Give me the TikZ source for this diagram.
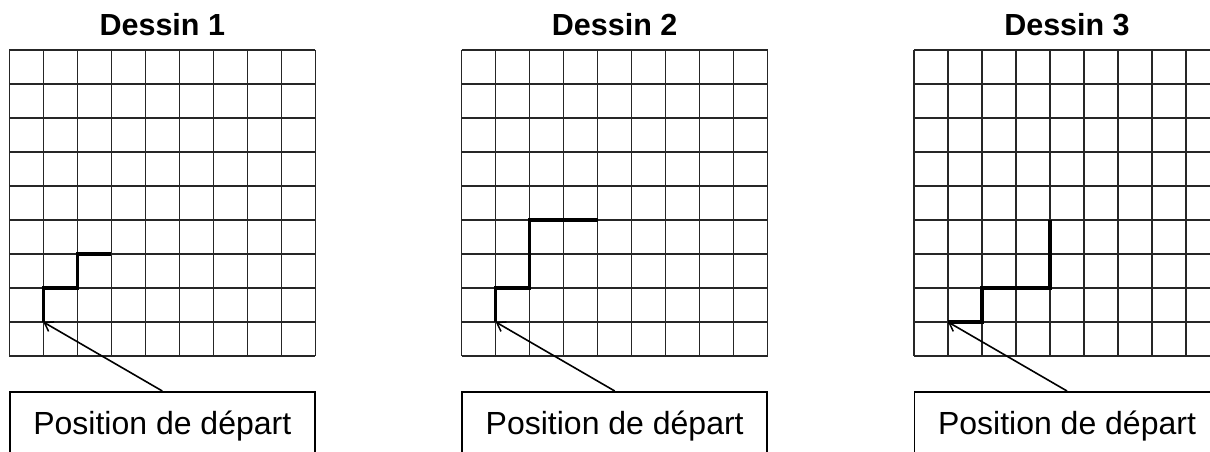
\documentclass[tikz,border=0pt]{standalone}
\usepackage{fontspec}
\setmainfont{Liberation Sans}
\usetikzlibrary{arrows.meta}
\begin{document}
\begin{tikzpicture}[x=1pt,y=-1pt,
  gridline/.style={line width=1.15pt, draw=black!85},
  pathline/.style={line width=3.3pt, line join=miter, line cap=butt},
  arrowline/.style={line width=1.6pt, -{Straight Barb[length=8pt,width=11pt,line width=1.5pt]}},
  titletext/.style={font=\bfseries\fontsize{30.5}{36}\selectfont, anchor=base, inner sep=0},
  box/.style={draw, line width=1.6pt, minimum width=305pt, inner sep=0pt,
    text height=42.3pt, text depth=40pt, anchor=north, font=\fontsize{32}{38}\selectfont}]
\clip (0,0) rectangle (1210,452);
\fill[white] (0,0) rectangle (1210,452);
% grids and titles
\foreach \k/\x in {1/9.3, 2/461.7, 3/914} {
  \foreach \i in {0,...,9} {
    \draw[gridline] (\x+\i*34, 50) -- (\x+\i*34, 356);
    \draw[gridline] (\x, 50+\i*34) -- (\x+306, 50+\i*34);
  }
  \node[titletext] (t\k) at (\x+153, 35.5) {Dessin \k};
  \node[box] (b\k) at (\x+153, 391) {Position de départ};
}
% starting points
\coordinate (s1) at (43.3,322);
\coordinate (s2) at (495.7,322);
\coordinate (s3) at (948,322);
% paths
\draw[pathline] (s1) -- (43.3,288) -- (77.3,288) -- (77.3,254) -- (111.3,254);
\draw[pathline] (s2) -- (495.7,288) -- (529.7,288) -- (529.7,220) -- (597.7,220);
\draw[pathline] (s3) -- (982,322) -- (982,288) -- (1050,288) -- (1050,220);
% arrows
\draw[arrowline] (b1.north) -- (s1);
\draw[arrowline] (b2.north) -- (s2);
\draw[arrowline] (b3.north) -- (s3);
\end{tikzpicture}
\end{document}
